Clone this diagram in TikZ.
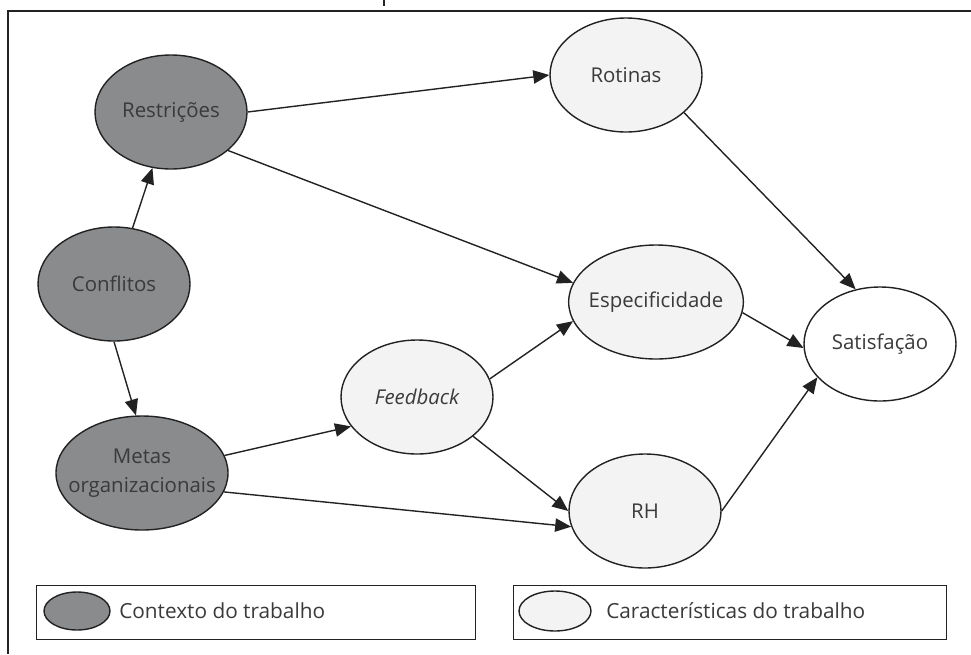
\documentclass[tikz,border=0pt]{standalone}
\usepackage{fontspec}
\setmainfont{Open Sans}
\usetikzlibrary{shapes.geometric,arrows.meta}
\definecolor{darkfill}{HTML}{8A8B8D}
\definecolor{lightfill}{HTML}{F3F3F3}
\definecolor{linecol}{HTML}{222222}
\definecolor{textcol}{HTML}{3A3A3A}
\newcommand{\zw}[1]{\makebox[0pt][c]{#1}}
\tikzset{
  base/.style={ellipse, draw=linecol, line width=1.05pt, inner sep=0pt, text=textcol,
    font=\fontsize{15.3}{21.5}\selectfont, align=center},
  darknode/.style={base, fill=darkfill, minimum width=114pt, minimum height=85.5pt},
  lightnode/.style={base, fill=lightfill, minimum width=114pt, minimum height=85.5pt},
  whitenode/.style={base, fill=white, minimum width=114pt, minimum height=85.5pt},
  arr/.style={draw=linecol, line width=1.05pt, -{Triangle[length=12pt,width=10pt]}},
  legbox/.style={draw=linecol, line width=1pt, fill=white},
  legtext/.style={text=textcol, font=\fontsize{15.6}{20}\selectfont, anchor=west, inner sep=0pt}
}
\begin{document}
\begin{tikzpicture}[x=0.75pt,y=-0.75pt]
\useasboundingbox (0,0) rectangle (971,654);
% frame
\draw[linecol, line width=1.1pt] (971,11) -- (8,11) -- (8,654);
\draw[linecol, line width=1.1pt] (384,0) -- (384,6);
% nodes
\node[darknode] (restr) at (171,112) {\zw{Restrições}};
\node[darknode] (conf) at (114,284) {\zw{Conflitos}};
\node[darknode, minimum width=129pt] (metas) at (142,473) {\zw{Metas}\\\zw{organizacionais}};
\node[lightnode] (rot) at (626,75) {\zw{Rotinas}};
\node[lightnode, minimum width=131pt] (esp) at (656,302) {\zw{Especificidade}};
\node[lightnode] (fb) at (417,397) {\zw{\itshape Feedback}};
\node[lightnode] (rh) at (645,511) {\zw{RH}};
\node[whitenode] (sat) at (880,344) {\zw{Satisfação}};
% edges
\draw[arr] (restr.east) -- (rot.west);
\draw[arr] (restr.-34.6) -- (esp.167);
\draw[arr] (conf) -- (restr);
\draw[arr] (conf.south) -- (metas.96);
\draw[arr] (metas.12.5) -- (fb.204);
\draw[arr] (metas.-13) -- (rh.192);
\draw[arr] (fb.14) -- (esp.193);
\draw[arr] (fb.-35) -- (rh.west);
\draw[arr] (rot.-33.7) -- (sat.114);
\draw[arr] (esp.-7) -- (sat.183);
\draw[arr] (rh.east) -- (sat.208);
% legend
\node[legbox, minimum width=329.25pt, minimum height=40.5pt, inner sep=0pt, anchor=north west] (leg1) at (36,585) {};
\node[ellipse, draw=linecol, line width=1.05pt, fill=darkfill, minimum width=49.5pt, minimum height=28.5pt, inner sep=0pt] (le1) at (77,611) {};
\node[legtext] (lt1) at (119,611) {Contexto do trabalho};
\node[legbox, minimum width=324.75pt, minimum height=40.5pt, inner sep=0pt, anchor=north west] (leg2) at (513,585) {};
\node[ellipse, draw=linecol, line width=1.05pt, fill=lightfill, minimum width=54pt, minimum height=30pt, inner sep=0pt] (le2) at (555,611) {};
\node[legtext] (lt2) at (606,611) {Características do trabalho};
\end{tikzpicture}
\end{document}
